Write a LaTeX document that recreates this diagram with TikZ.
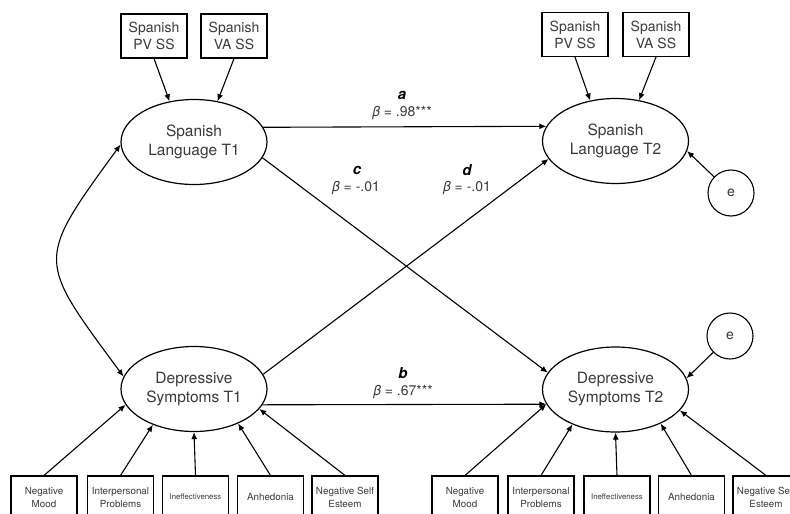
\documentclass[tikz,border=0pt]{standalone}
\usepackage{fontspec}
\setmainfont{TeX Gyre Heros}
\usetikzlibrary{arrows.meta,shapes.geometric}
\definecolor{txt}{HTML}{3A3A3A}
\tikzset{
  lat/.style={ellipse,draw,line width=1.2pt,minimum width=146pt,minimum height=85pt,inner sep=0pt,align=center,text=txt,font=\fontsize{15.5}{19}\selectfont},
  tbox/.style={rectangle,draw,line width=1.1pt,minimum width=66pt,minimum height=44pt,inner sep=0pt,align=center,text=txt,font=\fontsize{14}{17}\selectfont},
  bbox/.style={rectangle,draw,line width=1.1pt,minimum width=66pt,minimum height=42pt,inner sep=0pt,align=center,text=txt,font=\fontsize{9.8}{13}\selectfont},
  errc/.style={circle,draw,line width=1.1pt,minimum size=46pt,inner sep=0pt,text=txt,font=\fontsize{14}{17}\selectfont},
  arr/.style={line width=1.1pt,-{Latex[length=7pt,width=6pt]}},
  lbl/.style={text=txt,font=\fontsize{14}{17}\selectfont,inner sep=0pt},
  lblb/.style={text=black,font=\fontsize{15}{17}\selectfont\bfseries\itshape,inner sep=0pt}
}
\begin{document}
\begin{tikzpicture}[x=1pt,y=-1pt]
\clip (0,0) rectangle (790,514);
\fill[white] (0,0) rectangle (790,514);
% latent variables
\node[lat] (sl1) at (194,142) {Spanish\\Language T1};
\node[lat] (sl2) at (615.5,141) {Spanish\\Language T2};
\node[lat] (ds1) at (194,389) {Depressive\\Symptoms T1};
\node[lat] (ds2) at (615.5,389.5) {Depressive\\Symptoms T2};
% top indicators
\node[tbox] (pv1) at (154,36) {Spanish\\PV SS};
\node[tbox] (va1) at (234,36) {Spanish\\VA SS};
\node[tbox] (pv2) at (575,34.5) {Spanish\\PV SS};
\node[tbox] (va2) at (656,34.5) {Spanish\\VA SS};
% error terms
\node[errc] (e1) at (731,193) {e};
\node[errc] (e2) at (730,336) {e};
% bottom indicators left
\node[bbox] (nm1) at (44,497) {Negative\\Mood};
\node[bbox] (ip1) at (120.5,497) {Interpersonal\\Problems};
\node[bbox,font=\fontsize{7.8}{10}\selectfont] (ie1) at (195.5,497) {Ineffectiveness};
\node[bbox] (an1) at (270.5,497) {Anhedonia};
\node[bbox] (ns1) at (345,497) {Negative Self\\Esteem};
% bottom indicators right
\node[bbox] (nm2) at (465,497) {Negative\\Mood};
\node[bbox] (ip2) at (541,497) {Interpersonal\\Problems};
\node[bbox,font=\fontsize{7.8}{10}\selectfont] (ie2) at (617,497) {Ineffectiveness};
\node[bbox] (an2) at (691.5,497) {Anhedonia};
\node[bbox] (ns2) at (766,497) {Negative Self\\Esteem};
% indicator arrows
\draw[arr] (pv1.south) -- (sl1.121.8);
\draw[arr] (va1.south) -- (sl1.60);
\draw[arr] (pv2.south) -- (sl2.122);
\draw[arr] (va2.south) -- (sl2.60);
\draw[arr] (nm1.north) -- (ds1.193);
\draw[arr] (ip1.north) -- (ds1.221);
\draw[arr] (ie1.north) -- (ds1.270);
\draw[arr] (an1.north) -- (ds1.322);
\draw[arr] (ns1.north) -- (ds1.343);
\draw[arr] (nm2.north) -- (ds2.192);
\draw[arr] (ip2.north) -- (ds2.219);
\draw[arr] (ie2.north) -- (ds2.270);
\draw[arr] (an2.north) -- (ds2.323);
\draw[arr] (ns2.north) -- (ds2.342);
% error arrows
\draw[arr] (e1) -- (sl2.-8.6);
\draw[arr] (e2) -- (ds2.9.5);
% structural paths
\draw[arr] (sl1.12.4) -- (sl2.168.4);
\draw[arr] (ds1.347.6) -- (ds2.192.4);
\draw[arr] (sl1.347.7) -- (ds2.166);
\draw[arr] (ds1.12.7) -- (sl2.195);
% covariance
\draw[line width=1.1pt,{Latex[length=7pt,width=6pt]}-{Latex[length=7pt,width=6pt]}] (sl1.182) .. controls (35,262) and (37,259) .. (ds1.170);
% labels
\node[lblb] (la) at (402,95) {a};
\node[lbl] (ba) at (402,113) {\textit{β} = .98***};
\node[lblb] (lc) at (357,170) {c};
\node[lbl] (bc) at (356,188) {\textit{β} = -.01};
\node[lblb] (ld) at (467,170) {d};
\node[lbl] (bd) at (467,188) {\textit{β} = -.01};
\node[lblb] (lb) at (403,373) {b};
\node[lbl] (bb) at (403,392) {\textit{β} = .67***};
\end{tikzpicture}
\end{document}
